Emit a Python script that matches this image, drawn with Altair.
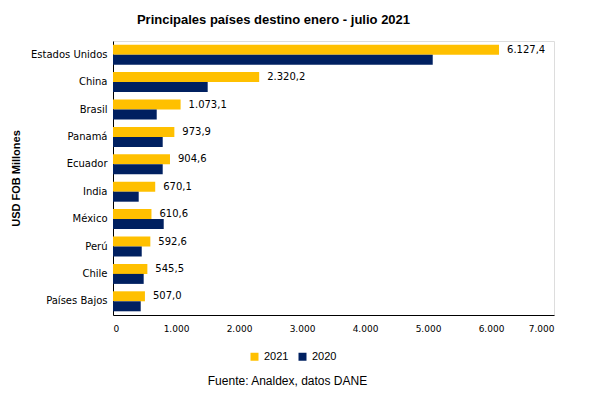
import altair as alt
import pandas as pd

countries = ["Estados Unidos", "China", "Brasil", "Panamá", "Ecuador", "India",
             "México", "Perú", "Chile", "Países Bajos"]
v2021 = [6127.4, 2320.2, 1073.1, 973.9, 904.6, 670.1, 610.6, 592.6, 545.5, 507.0]
v2020 = [5075, 1503, 694, 789, 789, 408, 805, 456, 487, 440]
years = ["2021", "2020"]
colors = ["#FFC000", "#002060"]
x_ticks = [0, 1000, 2000, 3000, 4000, 5000, 6000, 7000]


def fmt(v):
    s = f"{v:,.1f}"
    return s.replace(",", "X").replace(".", ",").replace("X", ".")


rows = []
for c, a, b in zip(countries, v2021, v2020):
    rows.append({"pais": c, "anio": "2021", "valor": a})
    rows.append({"pais": c, "anio": "2020", "valor": b})
df = pd.DataFrame(rows)
lab = pd.DataFrame({"pais": countries, "valor": v2021, "label": [fmt(v) for v in v2021]})

yenc = alt.Y("pais:N", sort=countries,
             scale=alt.Scale(paddingInner=0.27, paddingOuter=0.135),
             axis=alt.Axis(title="USD FOB Millones", titleFont="Liberation Sans",
                           titleFontSize=11, titleFontWeight="bold", titleColor="#000",
                           titleX=-92, titleBaseline="bottom",
                           labelFont="DejaVu Sans", labelFontSize=10, labelColor="#000",
                           labelPadding=6, ticks=False, domainColor="#000",
                           domainWidth=1))

xenc = alt.X("valor:Q", scale=alt.Scale(domain=[0, 7000], nice=False),
             axis=alt.Axis(values=x_ticks, grid=False, ticks=False, domainColor="#000",
                           domainWidth=1,
                           labelExpr="replace(format(datum.value, ','), ',', '.')",
                           labelFont="DejaVu Sans", labelFontSize=9, labelColor="#000",
                           labelPadding=9,
                           title="Fuente: Analdex, datos DANE", titleFont="Liberation Sans",
                           titleFontSize=12, titleFontWeight="normal", titleColor="#000",
                           titleX=174, titlePadding=42))

bars = alt.Chart(df).mark_bar().encode(
    x=xenc,
    y=yenc,
    yOffset=alt.YOffset("anio:N", sort=years, scale=alt.Scale(paddingInner=0, paddingOuter=0)),
    color=alt.Color("anio:N", sort=years,
                    scale=alt.Scale(domain=years, range=colors),
                    legend=alt.Legend(title=None, orient="none", legendX=136, legendY=310,
                                      direction="horizontal", symbolType="square",
                                      symbolSize=64, labelFont="Liberation Sans",
                                      labelFontSize=11, labelColor="#000",
                                      columnPadding=8, symbolStrokeWidth=0)),
)

texts = alt.Chart(lab).mark_text(align="left", dx=8, dy=-5, font="DejaVu Sans",
                                 fontSize=10, color="#000").encode(
    x="valor:Q",
    y=alt.Y("pais:N", sort=countries),
    text="label:N",
)

chart = alt.layer(bars, texts).properties(
    width=441, height=274,
    title=alt.TitleParams("Principales países destino enero - julio 2021",
                          font="Liberation Sans", fontSize=13, fontWeight="bold",
                          color="#000", dx=-60, offset=14),
    autosize=alt.AutoSizeParams(type="none"),
    padding={"left": 105, "top": 33, "right": 30, "bottom": 72},
).configure_view(stroke=None).configure(background="white")

chart.save("out.html", embed_options={"renderer": "svg", "actions": False})
